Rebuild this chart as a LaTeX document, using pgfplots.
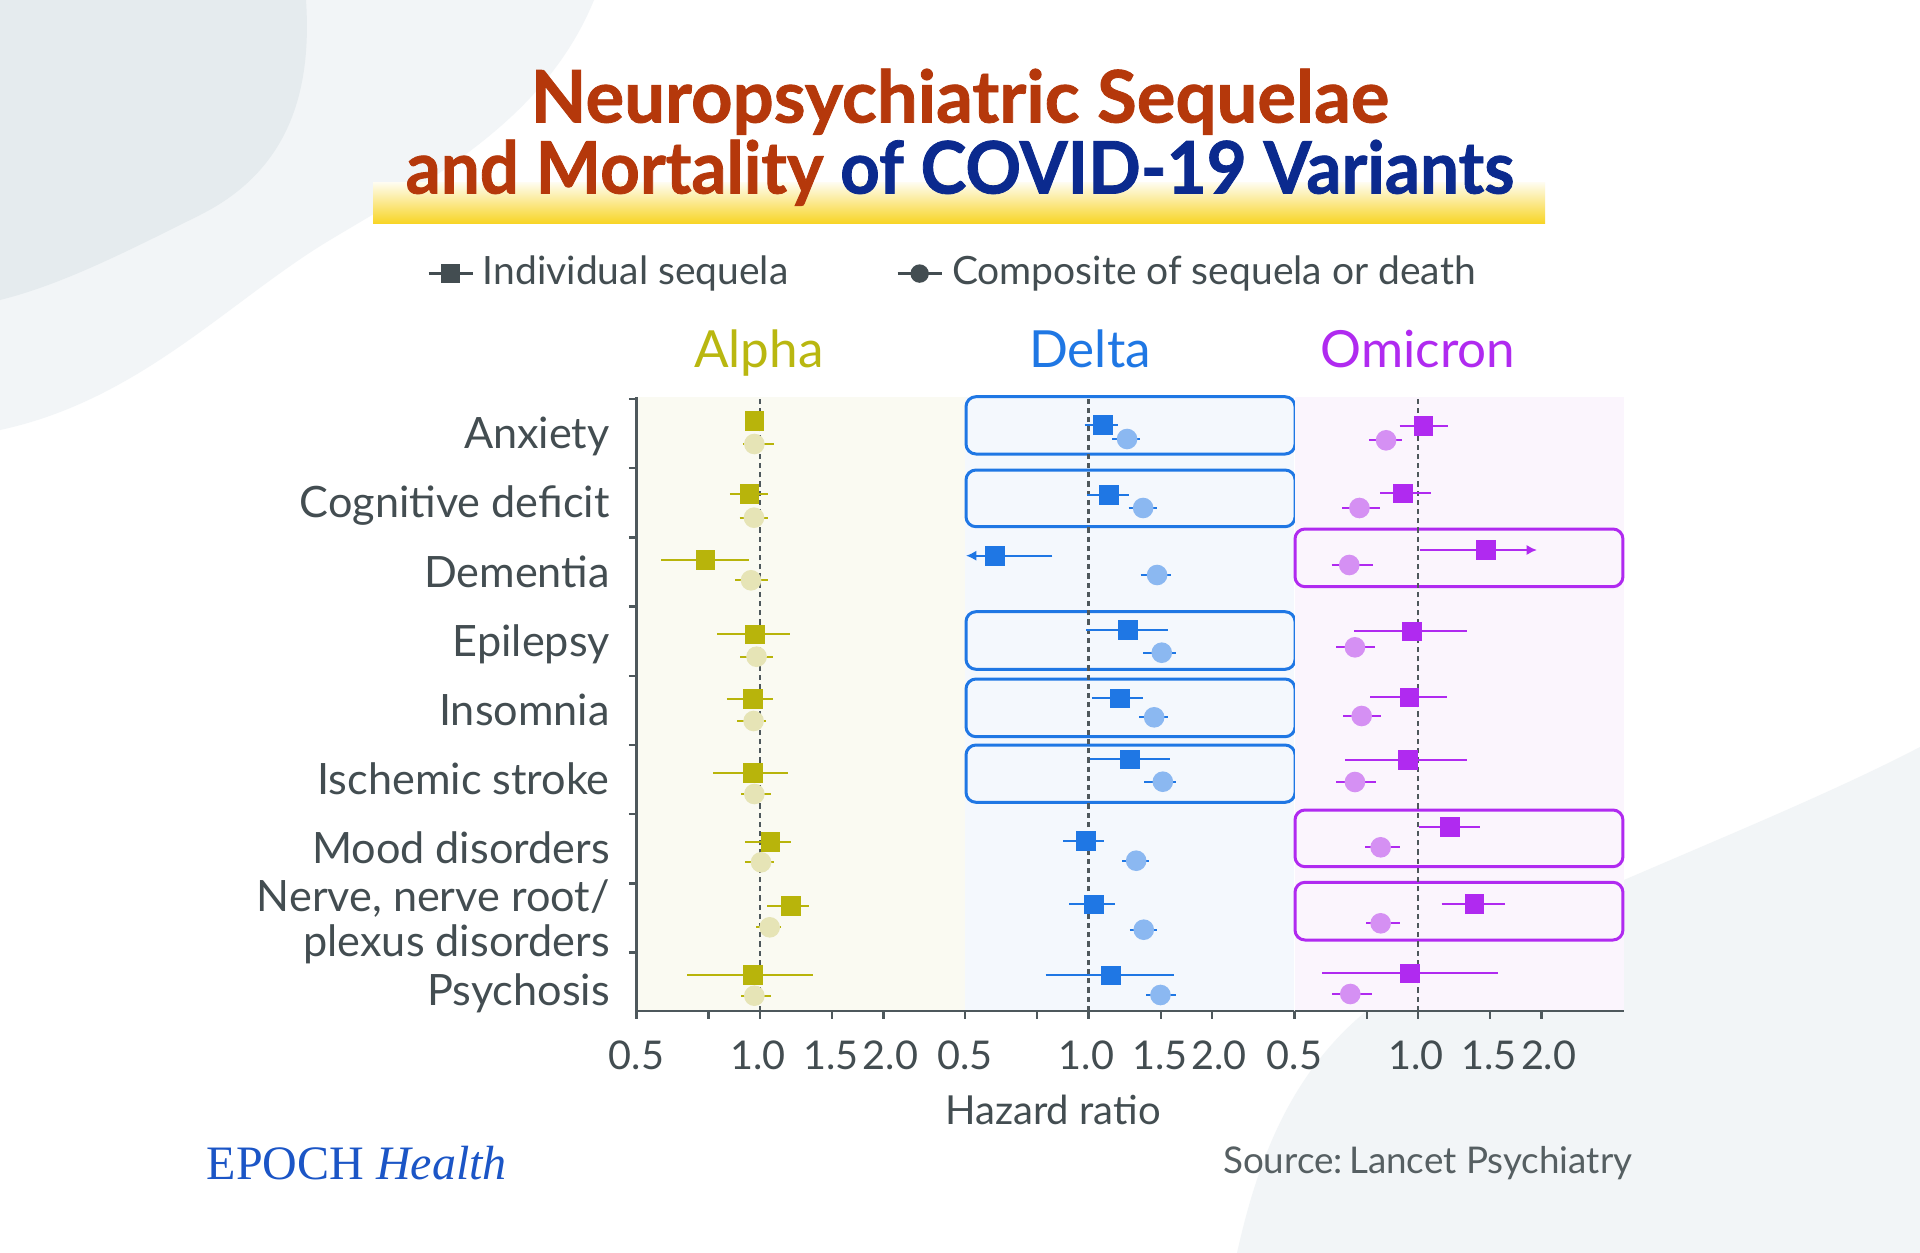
\documentclass[border=0pt]{standalone}
\usepackage{fontspec}
\setmainfont{Lato}
\newfontfamily\titlefontA{Lato}[FakeStretch=1.0, BoldFeatures={FakeBold=1.1}]
\newfontfamily\titlefontB{Lato}[FakeStretch=0.955, BoldFeatures={FakeBold=1.1}]
\newfontfamily\epochfont{Liberation Serif}
\usepackage{pgfplots}
\pgfplotsset{compat=1.18}
\usetikzlibrary{arrows.meta}

\definecolor{txt}{HTML}{434D51}
\definecolor{axc}{HTML}{4E585C}
\definecolor{tRed}{HTML}{B5380B}
\definecolor{tBlue}{HTML}{0B2A8E}
\definecolor{tYel}{HTML}{F8D527}
\definecolor{aS}{HTML}{B8B40B}
\definecolor{aC}{HTML}{E6E4B6}
\definecolor{aT}{HTML}{B9B710}
\definecolor{dS}{HTML}{1F77E4}
\definecolor{dC}{HTML}{8BB8F1}
\definecolor{oS}{HTML}{B02AF0}
\definecolor{oC}{HTML}{D590F3}
\definecolor{aBg}{HTML}{FAFAF2}
\definecolor{dBg}{HTML}{F4F8FD}
\definecolor{oBg}{HTML}{FBF5FD}
\definecolor{blobA}{HTML}{E5EBEE}
\definecolor{blobB}{HTML}{F2F5F7}
\definecolor{epoch}{HTML}{1B55C6}

\begin{document}
\begin{tikzpicture}[x=0.25pt,y=0.25pt]
\path[use as bounding box, fill=white] (0,0) rectangle (1920,-1253);
% background shapes
\fill[blobB] (0,0) -- (594,0) .. controls (545,-120) and (430,-180) .. (330,-240) .. controls (230,-300) and (140,-400) .. (0,-430) -- cycle;
\fill[blobA] (0,0) -- (306,0) .. controls (312,-90) and (290,-170) .. (200,-215) .. controls (120,-255) and (60,-285) .. (0,-300) -- cycle;
\fill[blobB] (1920,-747) .. controls (1780,-820) and (1560,-900) .. (1420,-975) .. controls (1300,-1040) and (1260,-1150) .. (1237,-1253) -- (1920,-1253) -- cycle;

% title
\shade[top color=tYel!6, bottom color=tYel] (373,-182) rectangle (1545,-223);
\node[anchor=base, inner sep=0pt, text=tRed, font=\titlefontA\fontsize{18.1}{20}\selectfont\bfseries] at (960,-122.5) {Neuropsychiatric Sequelae};
\node[anchor=base, inner sep=0pt, font=\titlefontB\fontsize{18.1}{20}\selectfont\bfseries] at (960,-193.5) {\textcolor{tRed}{and Mortality} \textcolor{tBlue}{of COVID-19 Variants}};

% panel titles
\node[anchor=base, inner sep=0pt, text=aT, font=\fontsize{12.8}{15}\selectfont] at (759,-367) {Alpha};
\node[anchor=base, inner sep=0pt, text=dS, font=\fontsize{12.8}{15}\selectfont] at (1090,-367) {Delta};
\node[anchor=base, inner sep=0pt, text=oS, font=\fontsize{12.8}{15}\selectfont] at (1418,-367) {Omicron};

% axis label and footer
\node[anchor=base, inner sep=0pt, text=txt, font=\fontsize{10}{12}\selectfont] at (1053,-1124) {Hazard ratio};
\node[anchor=base east, inner sep=0pt, text=txt!90, font=\fontsize{9.2}{11}\selectfont] at (1633,-1173) {Source:\,Lancet Psychiatry};
\node[anchor=base west, inner sep=0pt, text=epoch, font=\epochfont\fontsize{12}{14}\selectfont] at (206,-1179) {EPOCH \textit{Health}};

% ---------------- Alpha ----------------
\begin{axis}[at={(159.125pt,-252.75pt)}, anchor=south west,
    scale only axis, width=82.25pt, height=153.5pt,
    xmode=log, xmin=0.5, xmax=3.17, ymin=0, ymax=614,
    clip=false,
    axis x line=bottom, axis y line=left,
    axis line style={axc, line width=0.6pt, -},
    xtick={0.5,0.75,1,1.5,2}, xticklabels={0.5,,\hspace{-1pt}1.0,\hspace{-0.5pt}1.5\hspace{0.3pt},\hspace{3.6pt}2.0},
    xminorticks=false, yminorticks=false,
    tick align=outside, major tick length=1.9pt,
    tick style={axc, line width=0.6pt},
    xticklabel style={font=\fontsize{9.9}{12}\selectfont, text=txt, inner sep=0pt, yshift=-5.3pt},
    unbounded coords=jump,
  axis background/.style={fill=aBg},
  ytick={58.4,127.6,196.8,266,335.2,404.4,473.6,542.8,612}, yticklabels={},
  extra y ticks={21,70,115,162.3,231.5,300.7,369.9,439.1,508.3,577.5},
  extra y tick labels={Psychosis,plexus disorders,{Nerve, nerve root/},Mood disorders,Ischemic stroke,Insomnia,Epilepsy,Dementia,Cognitive deficit,Anxiety},
  extra y tick style={tick style={draw=none}},
  yticklabel style={font=\fontsize{10.8}{12}\selectfont, text=txt, anchor=base east, inner sep=0pt, xshift=-4.6pt, yshift=-3.8pt},
  legend style={at={(-0.638,1.201)}, anchor=west, draw=none, fill=none, inner sep=0pt,
    font=\fontsize{9.75}{11}\selectfont, text=txt, legend columns=2,
    /tikz/every odd column/.append style={column sep=0.3pt},
    /tikz/every even column/.append style={column sep=25pt}},
  legend cell align=left,
  legend image code/.code={\draw[mark repeat=2,mark phase=2,#1] plot coordinates {(0pt,0pt)(5.5pt,0pt)(11pt,0pt)};},
]
\addlegendimage{txt, line width=0.6pt, mark=square*, mark size=2pt}
\addlegendentry{Individual sequela}
\addlegendimage{txt, line width=0.6pt, mark=*, mark size=2pt}
\addlegendentry{Composite of sequela or death}
\addplot[axc, line width=0.6pt, dash pattern=on 1.3pt off 1pt] coordinates {(1,0)(1,616)};
\addplot[aS, line width=0.5pt] coordinates {(0.95,590)(0.99,590) (1,nan) (0.845,517)(1.048,517) (1,nan) (0.575,451.3)(0.940,451.3) (1,nan) (0.787,376.7)(1.186,376.7) (1,nan) (0.831,312)(1.076,312) (1,nan) (0.770,238.3)(1.170,238.3) (1,nan) (0.921,169)(1.188,169) (1,nan) (1.042,105.3)(1.320,105.3) (1,nan) (0.665,36.3)(1.344,36.3)};
\addplot[aS, only marks, mark=square*, mark size=2.25pt] coordinates {(0.969,590)(0.942,517)(0.737,451.3)(0.972,376.7)(0.960,312)(0.960,238.3)(1.060,169)(1.190,105.3)(0.960,36.3)};
\addplot[aC, only marks, mark=*, mark size=2.375pt] coordinates {(0.969,567)(0.967,493.3)(0.951,430.7)(0.981,354.3)(0.965,290)(0.969,217)(1.006,148.7)(1.056,83.7)(0.969,15.3)};
\addplot[aS, line width=0.5pt] coordinates {(0.909,567)(1.080,567) (1,nan) (0.892,493.3)(1.046,493.3) (1,nan) (0.871,430.7)(1.046,430.7) (1,nan) (0.896,354.3)(1.078,354.3) (1,nan) (0.880,290)(1.034,290) (1,nan) (0.899,217)(1.066,217) (1,nan) (0.921,148.7)(1.080,148.7) (1,nan) (0.980,83.7)(1.125,83.7) (1,nan) (0.899,15.3)(1.066,15.3)};
\end{axis}

% ---------------- Delta ----------------
\begin{axis}[at={(241.25pt,-252.75pt)}, anchor=south west,
    scale only axis, width=82.25pt, height=153.5pt,
    xmode=log, xmin=0.5, xmax=3.17, ymin=0, ymax=614,
    clip=false,
    axis x line=bottom, axis y line=none, ytick=\empty,
    axis line style={axc, line width=0.6pt, -},
    xtick={0.5,0.75,1,1.5,2}, xticklabels={0.5,,\hspace{-1pt}1.0,\hspace{-0.5pt}1.5\hspace{0.3pt},\hspace{3.6pt}2.0},
    xminorticks=false, yminorticks=false,
    tick align=outside, major tick length=1.9pt,
    tick style={axc, line width=0.6pt},
    xticklabel style={font=\fontsize{9.9}{12}\selectfont, text=txt, inner sep=0pt, yshift=-5.3pt},
    unbounded coords=jump,
  axis background/.style={fill=dBg}]
\draw[dS, line width=0.75pt, rounded corners=2.5pt] (axis cs:0.5028,614.3) rectangle (axis cs:3.19,557);
\draw[dS, line width=0.75pt, rounded corners=2.5pt] (axis cs:0.5028,541) rectangle (axis cs:3.19,484.3);
\draw[dS, line width=0.75pt, rounded corners=2.5pt] (axis cs:0.5028,399.3) rectangle (axis cs:3.19,341.7);
\draw[dS, line width=0.75pt, rounded corners=2.5pt] (axis cs:0.5028,332) rectangle (axis cs:3.19,274.3);
\draw[dS, line width=0.75pt, rounded corners=2.5pt] (axis cs:0.5028,266) rectangle (axis cs:3.19,208.7);
\addplot[axc, line width=0.6pt, dash pattern=on 1.3pt off 1pt] coordinates {(1,0)(1,616)};
\addplot[dS, line width=0.5pt] coordinates {(0.978,586)(1.183,586) (1,nan) (0.994,516)(1.252,516) (1,nan) (0.987,381)(1.561,381) (1,nan) (1.019,312.7)(1.359,312.7) (1,nan) (1.006,251.7)(1.578,251.7) (1,nan) (0.867,170.3)(1.090,170.3) (1,nan) (0.897,106.7)(1.161,106.7) (1,nan) (0.786,35.7)(1.617,35.7)};
\addplot[dS, line width=0.5pt, -{Latex[length=2.6pt,width=2.6pt]}] coordinates {(0.817,455.3)(0.503,455.3)};
\addplot[dS, only marks, mark=square*, mark size=2.25pt] coordinates {(1.086,586)(1.123,516)(0.591,455.3)(1.247,381)(1.194,312.7)(1.261,251.7)(0.987,170.3)(1.032,106.7)(1.133,35.7)};
\addplot[dC, only marks, mark=*, mark size=2.375pt] coordinates {(1.242,572)(1.359,503)(1.470,436)(1.509,358.3)(1.446,293.7)(1.518,229.3)(1.307,150.3)(1.364,81.3)(1.498,16)};
\addplot[dS, line width=0.5pt] coordinates {(1.144,572)(1.339,572) (1,nan) (1.252,503)(1.467,503) (1,nan) (1.341,436)(1.593,436) (1,nan) (1.359,358.3)(1.630,358.3) (1,nan) (1.329,293.7)(1.561,293.7) (1,nan) (1.369,229.3)(1.639,229.3) (1,nan) (1.208,150.3)(1.408,150.3) (1,nan) (1.261,81.3)(1.470,81.3) (1,nan) (1.385,16)(1.639,16)};
\end{axis}

% ---------------- Omicron ----------------
\begin{axis}[at={(323.625pt,-252.75pt)}, anchor=south west,
    scale only axis, width=82.25pt, height=153.5pt,
    xmode=log, xmin=0.5, xmax=3.17, ymin=0, ymax=614,
    clip=false,
    axis x line=bottom, axis y line=none, ytick=\empty,
    axis line style={axc, line width=0.6pt, -},
    xtick={0.5,0.75,1,1.5,2}, xticklabels={0.5,,\hspace{-1pt}1.0,\hspace{-0.5pt}1.5\hspace{0.3pt},\hspace{3.6pt}2.0},
    xminorticks=false, yminorticks=false,
    tick align=outside, major tick length=1.9pt,
    tick style={axc, line width=0.6pt},
    xticklabel style={font=\fontsize{9.9}{12}\selectfont, text=txt, inner sep=0pt, yshift=-5.3pt},
    unbounded coords=jump,
  axis background/.style={fill=oBg}]
\draw[oS, line width=0.75pt, rounded corners=2.5pt] (axis cs:0.5014,482) rectangle (axis cs:3.16,424.3);
\draw[oS, line width=0.75pt, rounded corners=2.5pt] (axis cs:0.5014,201) rectangle (axis cs:3.16,144.3);
\draw[oS, line width=0.75pt, rounded corners=2.5pt] (axis cs:0.5014,128.7) rectangle (axis cs:3.16,71);
\addplot[axc, line width=0.6pt, dash pattern=on 1.3pt off 1pt] coordinates {(1,0)(1,616)};
\addplot[oS, line width=0.5pt] coordinates {(0.902,585.3)(1.183,585.3) (1,nan) (0.808,517.7)(1.078,517.7) (1,nan) (0.700,379.7)(1.314,379.7) (1,nan) (0.765,313.7)(1.175,313.7) (1,nan) (0.665,251)(1.317,251) (1,nan) (1.006,184.3)(1.419,184.3) (1,nan) (1.142,107)(1.626,107) (1,nan) (0.585,37.7)(1.567,37.7)};
\addplot[oS, line width=0.5pt, -{Latex[length=2.6pt,width=2.6pt]}] coordinates {(1.009,461)(1.95,461)};
\addplot[oS, only marks, mark=square*, mark size=2.25pt] coordinates {(1.032,585.3)(0.919,517.7)(1.465,461)(0.967,379.7)(0.954,313.7)(0.944,251)(1.197,184.3)(1.372,107)(0.956,37.7)};
\addplot[oC, only marks, mark=*, mark size=2.375pt] coordinates {(0.836,570.7)(0.720,503)(0.680,446)(0.702,363.7)(0.729,295)(0.702,229)(0.811,163.7)(0.811,87.7)(0.684,17)};
\addplot[oS, line width=0.5pt] coordinates {(0.761,570.7)(0.912,570.7) (1,nan) (0.653,503)(0.806,503) (1,nan) (0.616,446)(0.778,446) (1,nan) (0.632,363.7)(0.784,363.7) (1,nan) (0.658,295)(0.813,295) (1,nan) (0.632,229)(0.790,229) (1,nan) (0.743,163.7)(0.902,163.7) (1,nan) (0.747,87.7)(0.902,87.7) (1,nan) (0.618,17)(0.771,17)};
\end{axis}
\end{tikzpicture}
\end{document}
